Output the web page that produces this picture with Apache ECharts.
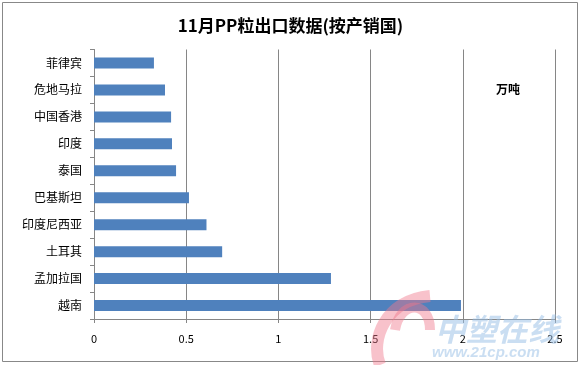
<!DOCTYPE html>
<html><head><meta charset="utf-8">
<script src="https://cdn.jsdelivr.net/npm/echarts@6/dist/echarts.min.js"></script>
<style>html,body{margin:0;padding:0;background:#fff}#c{width:581px;height:365px}</style>
</head><body><div id="c"></div>
<script>
const categories = ['菲律宾','危地马拉','中国香港','印度','泰国','巴基斯坦','印度尼西亚','土耳其','孟加拉国','越南'];
const values = [0.325,0.385,0.418,0.423,0.445,0.515,0.61,0.695,1.285,1.99];
const xTicks = [0,0.5,1,1.5,2,2.5];
const titleText = '11月PP粒出口数据(按产销国)';
const unitText = '万吨';

const chart = echarts.init(document.getElementById('c'), null, {renderer:'canvas'});
const font = '"Noto Sans CJK SC","Microsoft YaHei",sans-serif';
chart.setOption({
  animation:false,
  backgroundColor:'#fff',
  title:{text:titleText,left:'center',top:12,textStyle:{fontSize:17,fontWeight:'bold',color:'#000',fontFamily:font}},
  grid:{left:94,right:26,top:49.5,bottom:46,containLabel:false},
  xAxis:{type:'value',min:xTicks[0],max:xTicks[xTicks.length-1],interval:0.5,
    axisLine:{show:true,lineStyle:{color:'#868686',width:1}},
    axisTick:{show:true,length:4,lineStyle:{color:'#868686'}},
    splitLine:{show:true,lineStyle:{color:'#868686',width:1}},
    axisLabel:{color:'#000',fontSize:11,margin:14,fontFamily:font,formatter:v=>String(v)}},
  yAxis:{type:'category',data:categories,inverse:true,
    axisLine:{show:true,lineStyle:{color:'#868686',width:1}},
    axisTick:{show:true,length:4,lineStyle:{color:'#868686'}},
    axisLabel:{color:'#000',fontSize:12,margin:12,fontFamily:font}},
  series:[{type:'bar',data:values,barWidth:11,itemStyle:{color:'#4F81BD'},silent:true}],
  graphic:[
    {type:'rect',shape:{x:2.5,y:2.5,width:575,height:359},style:{fill:null,stroke:'#888',lineWidth:1},silent:true,z:-1},
    {type:'text',left:496,top:83,style:{text:unitText,font:'bold 12px '+font,fill:'#000'}},
    {type:'bezierCurve',shape:{x1:430,y1:296,x2:380,y2:365,cpx1:385,cpy1:300,cpx2:370,cpy2:340},style:{stroke:'rgba(240,120,140,0.45)',lineWidth:12,fill:null},z:100},
    {type:'bezierCurve',shape:{x1:395,y1:330,x2:430,y2:330,cpx1:400,cpy1:300,cpx2:430,cpy2:300},style:{stroke:'rgba(240,120,140,0.45)',lineWidth:10,fill:null},z:100},
    {type:'text',left:435,top:314,style:{text:'中塑在线',font:'italic bold 31px '+font,fill:'rgba(150,190,230,0.5)'},z:100},
    {type:'text',left:432,top:345,style:{text:'www.21cp.com',font:'italic bold 15px sans-serif',fill:'rgba(150,190,230,0.5)'},z:100}
  ]
});
</script></body></html>
